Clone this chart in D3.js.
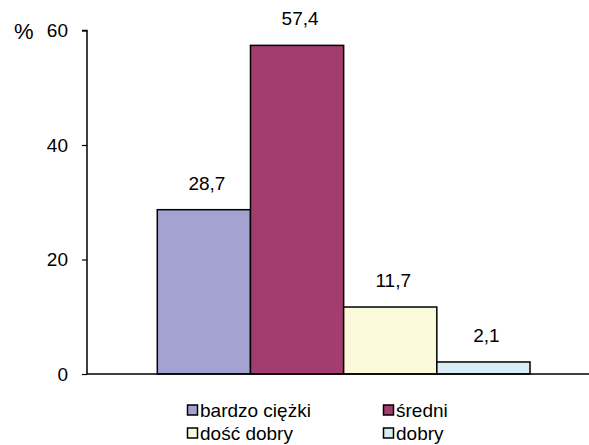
<!DOCTYPE html>
<html>
<head>
<meta charset="utf-8">
<script src="https://cdn.jsdelivr.net/npm/d3@7"></script>
<style>
  html, body { margin: 0; padding: 0; background: #fff; }
  svg { display: block; font-family: Arial, "Liberation Sans", sans-serif; }
</style>
</head>
<body>
<svg id="chart" width="589" height="445"></svg>
<script>
// Category names, their percentages and fill colours
const categories = ["bardzo ciężki", "średni", "dość dobry", "dobry"];
const values = [28.7, 57.4, 11.7, 2.1];
const colors = ["#A3A2D0", "#A33C6F", "#FAFADA", "#D8EEF4"];
const yTicks = [0, 20, 40, 60];

const svg = d3.select("#chart");
const fontSize = 19;

// Plot area
const axisX = 87, axisRight = 589;
const yTop = 30.5, yBottom = 374;

const y = d3.scaleLinear().domain([0, 60]).range([yBottom, yTop]);
const x = d3.scaleBand().domain(categories).range([157.3, 530]).padding(0);

// Bars
svg.append("g").selectAll("rect")
  .data(categories)
  .join("rect")
  .attr("x", d => x(d))
  .attr("y", (d, i) => y(values[i]))
  .attr("width", x.bandwidth())
  .attr("height", (d, i) => y(0) - y(values[i]))
  .attr("fill", (d, i) => colors[i])
  .attr("stroke", "#000")
  .attr("stroke-width", 1.5);

// Value labels above bars
svg.append("g").selectAll("text")
  .data(categories)
  .join("text")
  .attr("x", d => x(d) + x.bandwidth() / 2 + 3)
  .attr("y", (d, i) => y(values[i]) - 20)
  .attr("text-anchor", "middle")
  .attr("font-size", fontSize)
  .attr("fill", "#000")
  .text((d, i) => d3.format(".1f")(values[i]).replace(".", ","));

// Y axis
const yAxis = d3.axisLeft(y).tickValues(yTicks).tickSize(5).tickPadding(14).tickFormat(d3.format("d"));
const gy = svg.append("g").attr("transform", `translate(${axisX},0)`).call(yAxis);
gy.select(".domain").attr("stroke", "#000").attr("stroke-width", 1.5).attr("d", `M-5,${yTop}H0V${yBottom}`);
gy.selectAll(".tick line").attr("stroke", "#000").attr("stroke-width", 1.2);
gy.selectAll(".tick text").attr("font-size", fontSize).attr("font-family", "Arial, 'Liberation Sans', sans-serif").attr("fill", "#000");

// X axis baseline
svg.append("line")
  .attr("x1", axisX).attr("x2", axisRight)
  .attr("y1", y(0)).attr("y2", y(0))
  .attr("stroke", "#000").attr("stroke-width", 1.5);

// Unit label
svg.append("text")
  .attr("x", 14).attr("y", y(60) + 8)
  .attr("font-size", 22)
  .attr("fill", "#000")
  .text("%");

// Legend, two columns by two rows
const legendCols = [187, 383];
const legendRows = [410, 433];
const legend = svg.append("g").selectAll("g")
  .data(categories)
  .join("g")
  .attr("transform", (d, i) => `translate(${legendCols[i % 2]},${legendRows[Math.floor(i / 2)]})`);
legend.append("rect")
  .attr("x", 0.5).attr("y", -5)
  .attr("width", 10).attr("height", 10)
  .attr("fill", (d, i) => colors[i])
  .attr("stroke", "#000").attr("stroke-width", 1.5);
legend.append("text")
  .attr("x", 13).attr("y", 7)
  .attr("font-size", fontSize)
  .attr("fill", "#000")
  .text(d => d);
</script>
</body>
</html>
